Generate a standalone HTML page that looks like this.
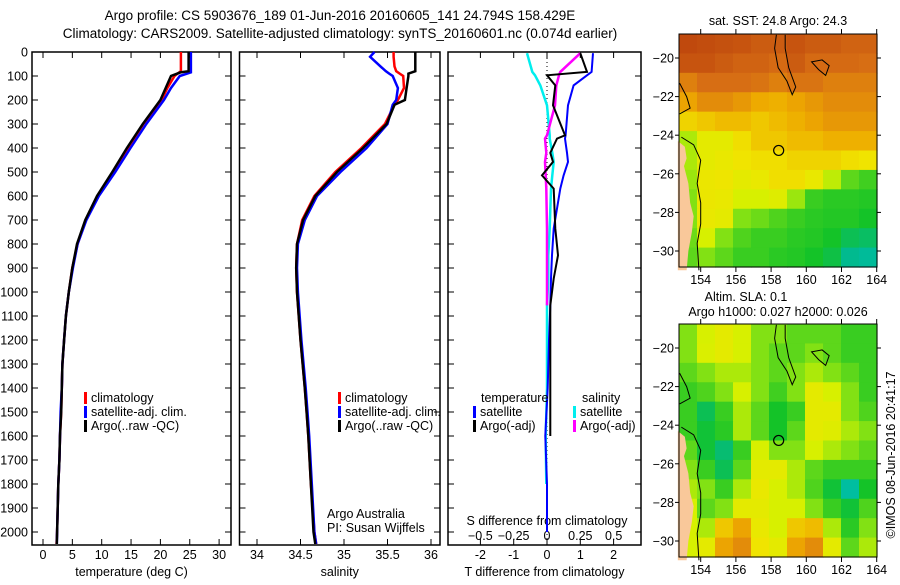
<!DOCTYPE html>
<html><head><meta charset="utf-8"><style>
body{margin:0;background:#fff;width:900px;height:580px;overflow:hidden}
svg{font-family:"Liberation Sans",sans-serif;font-size:12.5px}
</style></head><body>
<svg id="c" width="900" height="580" xmlns="http://www.w3.org/2000/svg">
<text x="340" y="20" text-anchor="middle" font-size="13.5">Argo profile: CS 5903676_189 01-Jun-2016 20160605_141 24.794S 158.429E</text>
<text x="340" y="38" text-anchor="middle" font-size="13.5">Climatology: CARS2009. Satellite-adjusted climatology: synTS_20160601.nc (0.074d earlier)</text>
<g id="g"></g>
</svg>
<script>
// ---------- data ----------
const depthTicks=[0,100,200,300,400,500,600,700,800,900,1000,1100,1200,1300,1400,1500,1600,1700,1800,1900,2000];
const tTicks=[0,5,10,15,20,25,30];
const sTicks=[34,34.5,35,35.5,36];
const tdTicks=[-2,-1,0,1,2];
const sdTicks=[-0.5,-0.25,0,0.25,0.5];
const argoTdepth=[0,80,85,100,150,200,300,400,500,600,700,800,900,1000,1100,1200,1300,1400,1500,1600,1700,1800,1900,2000,2050];
const argoT=[24.8,24.8,23.4,21.8,20.9,20.0,17.0,14.3,11.8,9.2,7.2,5.8,5.0,4.4,3.9,3.6,3.3,3.2,3.1,2.9,2.8,2.6,2.5,2.4,2.35];
const climT=[23.5,23.5,23.2,22.4,21.2,20.2,17.1,14.5,11.9,9.3,7.3,5.9,5.0,4.4,3.9,3.6,3.3,3.2,3.1,2.9,2.8,2.6,2.5,2.4,2.3];
const satT=[25.2,25.2,25.2,23.3,21.8,20.6,17.6,14.9,12.3,9.5,7.4,5.9,5.1,4.4,3.9,3.6,3.3,3.2,3.0,2.9,2.8,2.6,2.5,2.4,2.35];
const sDepth=[0,20,60,80,90,100,150,200,220,300,400,500,600,700,800,900,1000,1200,1400,1500,1600,1800,2000,2050];
const argoS=[35.82,35.82,35.82,35.82,35.74,35.74,35.72,35.70,35.58,35.49,35.22,34.92,34.67,34.53,34.46,34.45,34.46,34.50,34.55,34.57,34.59,34.62,34.65,34.67];
const climS=[35.57,35.57,35.58,35.6,35.64,35.68,35.69,35.62,35.58,35.47,35.20,34.90,34.66,34.52,34.46,34.45,34.46,34.50,34.55,34.57,34.59,34.62,34.66,34.68];
const satS=[35.35,35.3,35.42,35.48,35.52,35.56,35.62,35.6,35.56,35.5,35.26,34.96,34.69,34.55,34.47,34.46,34.47,34.51,34.56,34.58,34.60,34.63,34.66,34.68];
const dDepth=[5,83,97,139,222,347,361,420,458,514,569,736,847,944,1056,1200,1400,1600,1800,2000];
const satTd=[1.38,1.34,1.2,0.8,0.63,0.56,0.54,0.6,0.63,0.5,0.4,0.2,0.15,0.12,0.1,0.06,0.02,-0.05,0.0,0.0];
const argoTd=[1.0,1.2,0.0,0.25,0.18,0.54,0.3,0.1,0.18,-0.15,0.2,0.25,0.33,0.2,0.1,0.1,0.1,0.1,0.06,0.05];
const satSd=[-0.15,-0.11,-0.09,-0.05,0.0,0.02,0.02,0.04,0.05,0.04,0.03,0.02,0.01,0.01,0.0,0.0,0.0,-0.01,-0.005,0.0];
const argoSd=[0.25,0.1,0.09,0.07,0.06,0.0,-0.015,-0.005,-0.015,-0.01,-0.005,0.0,0.0,0.0,0.0,0.0,0.0,0.0,0.0,0.0];
const lonTicks=[154,156,158,160,162,164];
const latTicks=[-20,-22,-24,-26,-28,-30];
const sstGrid=[
[0.95,0.94,0.93,0.92,0.9,0.9,0.92,0.9,0.9,0.88,0.88],
[0.92,0.92,0.9,0.88,0.88,0.86,0.9,0.86,0.86,0.86,0.85],
[0.82,0.85,0.85,0.85,0.84,0.82,0.84,0.84,0.82,0.82,0.82],
[0.76,0.8,0.8,0.78,0.75,0.74,0.76,0.78,0.8,0.8,0.8],
[0.68,0.7,0.72,0.72,0.7,0.72,0.74,0.76,0.78,0.78,0.78],
[0.5,0.6,0.6,0.66,0.7,0.7,0.72,0.72,0.74,0.74,0.74],
[0.5,0.6,0.62,0.65,0.66,0.66,0.68,0.68,0.68,0.66,0.65],
[0.48,0.63,0.64,0.6,0.62,0.66,0.66,0.62,0.52,0.4,0.36],
[0.45,0.63,0.62,0.55,0.55,0.58,0.48,0.35,0.33,0.33,0.32],
[0.45,0.62,0.6,0.45,0.42,0.38,0.35,0.33,0.32,0.32,0.3],
[0.42,0.55,0.45,0.38,0.35,0.35,0.33,0.32,0.3,0.24,0.22],
[0.4,0.45,0.4,0.35,0.35,0.33,0.32,0.3,0.26,0.16,0.14]];
const slaGrid=[
[0.45,0.55,0.6,0.55,0.45,0.45,0.4,0.4,0.4,0.35,0.35],
[0.45,0.56,0.6,0.55,0.45,0.4,0.4,0.45,0.4,0.35,0.35],
[0.4,0.45,0.5,0.5,0.45,0.4,0.45,0.5,0.45,0.4,0.35],
[0.35,0.38,0.45,0.55,0.45,0.36,0.45,0.6,0.55,0.45,0.35],
[0.35,0.24,0.35,0.5,0.4,0.3,0.35,0.6,0.6,0.45,0.38],
[0.35,0.28,0.33,0.5,0.4,0.3,0.4,0.6,0.58,0.5,0.45],
[0.4,0.28,0.2,0.35,0.55,0.45,0.45,0.55,0.5,0.45,0.4],
[0.45,0.35,0.24,0.4,0.6,0.6,0.5,0.4,0.35,0.35,0.35],
[0.5,0.45,0.35,0.5,0.62,0.55,0.5,0.38,0.28,0.12,0.3],
[0.55,0.4,0.45,0.6,0.6,0.55,0.55,0.45,0.35,0.28,0.38],
[0.55,0.5,0.7,0.76,0.62,0.55,0.7,0.72,0.5,0.33,0.45],
[0.55,0.6,0.76,0.8,0.65,0.6,0.76,0.8,0.6,0.4,0.5]];
// ---------- helpers ----------
const NS="http://www.w3.org/2000/svg",G=document.getElementById('g');
function mk(tag,at,parent){const e=document.createElementNS(NS,tag);for(const k in at)e.setAttribute(k,at[k]);(parent||G).appendChild(e);return e;}
function txt(x,y,s,anchor,parent){const e=mk('text',{x:x,y:y,'text-anchor':anchor||'middle'},parent);e.textContent=s;return e;}
const yD=d=>52+d*0.24;
function axisPanel(name,left,right,xs,ticks,fmt,title){
  const r=mk('rect',{x:left,y:52,width:right-left,height:493,fill:'none',stroke:'#000','stroke-width':1.5});
  
  
  depthTicks.forEach(d=>{mk('line',{x1:left,x2:left+6,y1:yD(d),y2:yD(d),stroke:'#000'});mk('line',{x1:right-6,x2:right,y1:yD(d),y2:yD(d),stroke:'#000'});});
  if(ticks){ticks.forEach(t=>{const x=xs(t);mk('line',{x1:x,x2:x,y1:52,y2:58,stroke:'#000'});mk('line',{x1:x,x2:x,y1:539,y2:545,stroke:'#000'});
    const l=txt(x,559,fmt(t));});}
  if(title){const t=txt((left+right)/2,576,title);}
}
function line(xs,depths,vals,color,w,name){
  const pts=vals.map((v,i)=>xs(v).toFixed(1)+','+yD(depths[i]).toFixed(1)).join(' ');
  const p=mk('polyline',{points:pts,fill:'none',stroke:color,'stroke-width':w,'stroke-linejoin':'miter'});
  
  
}
function legend(x,y,color,label,name){
  mk('rect',{x:x,y:y-10,width:3,height:12,fill:color});
  const t=txt(x+7,y,label,'start');
}
depthTicks.forEach(d=>{const t=txt(28,yD(d)+4.5,String(d),'end');});
const xT=t=>43+t*5.87;
axisPanel('temperature-panel',32,231,xT,tTicks,String,'temperature (deg C)');
line(xT,argoTdepth,climT,'#f00',2.5,'climatology-temperature-line');
line(xT,argoTdepth,satT,'#00f',2.5,'satellite-temperature-line');
line(xT,argoTdepth,argoT,'#000',2.5,'argo-temperature-line');
legend(84,402,'#f00','climatology','legend-climatology');
legend(84,416,'#00f','satellite-adj. clim.','legend-satellite');
legend(84,430,'#000','Argo(..raw -QC)','legend-argo');
const xS=s=>257+(s-34)*87;
axisPanel('salinity-panel',239.5,440,xS,sTicks,String,'salinity');
line(xS,sDepth,climS,'#f00',2.5,'climatology-salinity-line');
line(xS,sDepth,satS,'#00f',2.5,'satellite-salinity-line');
line(xS,sDepth,argoS,'#000',2.5,'argo-salinity-line');
legend(338,402,'#f00','climatology','legend-climatology-s');
legend(338,416,'#00f','satellite-adj. clim.','legend-satellite-s');
legend(338,430,'#000','Argo(..raw -QC)','legend-argo-s');
let t1=txt(327,518,'Argo Australia','start');
let t2=txt(327,532,'PI: Susan Wijffels','start');
const xTd=v=>547+v*33.3, xSd=v=>547+v*133.3;
axisPanel('difference-panel',448,641,xTd,tdTicks,String,'T difference from climatology');
sdTicks.forEach(v=>{const l=txt(xSd(v),540,(v<0?'\u2212':'')+String(Math.abs(v)));});
let t3=txt(547,525,'S difference from climatology');
mk('line',{x1:547,x2:547,y1:58,y2:545,stroke:'#000','stroke-dasharray':'1,3'});
line(xSd,dDepth.slice(0,19),satSd.slice(0,19),'#0ee',2.5,'satellite-salinity-diff-line');
line(xSd,dDepth.slice(0,15),argoSd.slice(0,15),'#f0f',2.5,'argo-salinity-diff-line');
line(xTd,dDepth,satTd,'#00f',2,'satellite-temperature-diff-line');
line(xTd,dDepth.slice(0,18),argoTd.slice(0,18),'#000',2,'argo-temperature-diff-line');
let t4=txt(481,402,'temperature','start');
let t5=txt(582,402,'salinity','start');
legend(473,416,'#00f','satellite','legend-t-satellite');
legend(473,430,'#000','Argo(-adj)','legend-t-argo');
legend(573,416,'#0ee','satellite','legend-s-satellite');
legend(573,430,'#f0f','Argo(-adj)','legend-s-argo');
// ---------- maps ----------
const stops=[[0,[0,210,200]],[0.15,[0,185,150]],[0.3,[20,195,40]],[0.45,[130,225,20]],[0.55,[215,240,0]],[0.65,[240,228,0]],[0.75,[238,170,0]],[0.85,[215,110,20]],[1,[180,55,10]]];
function cmap(v){for(let i=1;i<stops.length;i++){if(v<=stops[i][0]){const a=stops[i-1],b=stops[i],f=(v-a[0])/(b[0]-a[0]);return 'rgb('+a[1].map((c,k)=>Math.round(c+(b[1][k]-c)*f)).join(',')+')';}}return 'rgb(180,55,10)';}
function drawMap(name,top,grid,titles){
  const L=679,R=877,B=top+233;
  const xL=lon=>700.7+(lon-154)*17.6, yL=lat=>top+24+(-20-lat)*19.3;
  const g=mk('g',{});
  const rows=grid.length,cols=grid[0].length,cw=(R-L)/cols,ch=(B-top)/rows;
  grid.forEach((row,i)=>row.forEach((v,j)=>{const c=mk('rect',{x:L+j*cw,y:top+i*ch,width:cw+0.6,height:ch+0.6,fill:cmap(v)},g);
    }));
  const land=[[152.7,-24.3],[153.1,-24.6],[153.2,-25.2],[153.05,-25.6],[153.3,-26.5],[153.4,-27.5],[153.6,-28.2],[153.5,-29],[153.3,-30],[153.2,-31],[152.7,-31]];
  mk('polygon',{points:land.map(p=>xL(p[0])+','+yL(p[1])).join(' '),fill:'#f9c89a'},g);
  const coast=[[152.9,-24.1],[153.6,-24.5],[154.0,-25.3],[153.8,-26.5],[154.0,-27.5],[154.0,-28.6],[153.8,-29.6],[153.9,-31]];
  mk('polyline',{points:coast.map(p=>xL(p[0])+','+yL(p[1])).join(' '),fill:'none',stroke:'#000'},g);
  const ridge=[[158.3,-18.8],[158.2,-19.5],[158.4,-20.5],[158.9,-21.2],[159.2,-21.9],[159.4,-21.5],[159.0,-20.5],[158.8,-19.5],[158.8,-18.8]];
  mk('polyline',{points:ridge.map(p=>xL(p[0])+','+yL(p[1])).join(' '),fill:'none',stroke:'#000'},g);
  const isl=[[160.3,-20.2],[160.9,-20.1],[161.3,-20.4],[161.1,-20.9],[160.7,-20.6]];
  mk('polygon',{points:isl.map(p=>xL(p[0])+','+yL(p[1])).join(' '),fill:'none',stroke:'#000'},g);
  mk('polyline',{points:[[152.8,-21.3],[153.2,-22],[153.4,-22.6],[152.8,-22.9]].map(p=>xL(p[0])+','+yL(p[1])).join(' '),fill:'none',stroke:'#000'},g);
  mk('circle',{cx:xL(158.43),cy:yL(-24.79),r:5,fill:'none',stroke:'#000','stroke-width':1.2},g);
  mk('rect',{x:L,y:top,width:R-L,height:B-top,fill:'none',stroke:'#000'},g);
  lonTicks.forEach(l=>{const x=xL(l);mk('line',{x1:x,x2:x,y1:top-5,y2:top,stroke:'#000'},g);mk('line',{x1:x,x2:x,y1:B,y2:B+5,stroke:'#000'},g);
    const t=txt(x,B+17,String(l),'middle',g);});
  latTicks.forEach(l=>{const y=yL(l);mk('line',{x1:L-4,x2:L,y1:y,y2:y,stroke:'#000'},g);mk('line',{x1:R,x2:R+4,y1:y,y2:y,stroke:'#000'},g);
    const t=txt(674,y+4.5,String(l).replace('-','\u2212'),'end',g);});
  titles.forEach(tt=>{const t=txt(tt[0],tt[1],tt[2],'middle',g);});
}
drawMap('sst-map',34,sstGrid,[[778,25,'sat. SST: 24.8 Argo: 24.3']]);
drawMap('sla-map',324,slaGrid,[[746,301,'Altim. SLA: 0.1'],[778,316,'Argo h1000: 0.027 h2000: 0.026']]);
const stamp=mk('text',{x:0,y:0,'text-anchor':'middle',transform:'translate(895,455) rotate(-90)'});
stamp.textContent='\u00A9IMOS 08-Jun-2016 20:41:17';


</script>
</body></html>
